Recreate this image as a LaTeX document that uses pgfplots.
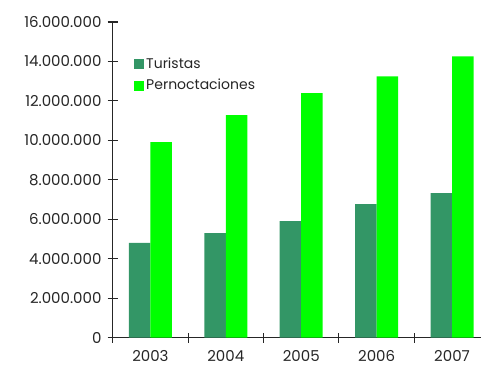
\documentclass[border=0pt]{standalone}
\usepackage{fontspec}
\setmainfont{Poppins}
\usepackage{pgfplots}
\pgfplotsset{compat=1.18}
\definecolor{tur}{RGB}{51,150,102}
\definecolor{per}{RGB}{0,255,0}
\begin{document}
\fontsize{15}{18}\selectfont
\begin{tikzpicture}
\begin{axis}[
  scale only axis, width=368pt, height=315.7pt,
  xmin=-0.5, xmax=4.38, ymin=0, ymax=16000000,
  axis lines*=left,
  axis line style={black!85, line width=1.1pt},
  every tick/.style={black!85, line width=1.1pt},
  ybar=0pt, bar width=0.285,
  xtick={0,1,2,3,4}, xticklabels={2003,2004,2005,2006,2007},
  major x tick style={draw=none},
  minor xtick={-0.5,0.5,1.5,2.5,3.5},
  major tick length=10pt, minor tick length=10pt, tick align=center,
  ytick={0,2000000,4000000,6000000,8000000,10000000,12000000,14000000,16000000},
  scaled y ticks=false,
  y tick label style={/pgf/number format/fixed, /pgf/number format/1000 sep={.}, /pgf/number format/assume math mode=true, xshift=-1pt},
  xticklabel style={yshift=-3pt},
  tick label style={font=\fontsize{15}{18}\selectfont, text=black!85},
  legend style={at={(rel axis cs:0.058,0.895)}, anchor=north west, draw=none, fill=none,
    inner sep=0pt, row sep=5pt, font=\fontsize{14}{17}\selectfont, text=black!85},
  legend cell align=left,
  legend image code/.code={\fill[#1,draw=none] (0pt,-5pt) rectangle (10pt,5pt);},
]
\addplot[fill=tur, draw=none] coordinates {(0,4810000) (1,5300000) (2,5910000) (3,6770000) (4,7330000)};
\addplot[fill=per, draw=none] coordinates {(0,9910000) (1,11280000) (2,12390000) (3,13250000) (4,14260000)};
\legend{Turistas, Pernoctaciones}
\coordinate (O) at (rel axis cs:0,0);
\end{axis}
\pgfresetboundingbox
\path[use as bounding box] (O) ++(-112.7pt,-29.3pt) rectangle ++(481pt,367pt);
\end{tikzpicture}
\end{document}
